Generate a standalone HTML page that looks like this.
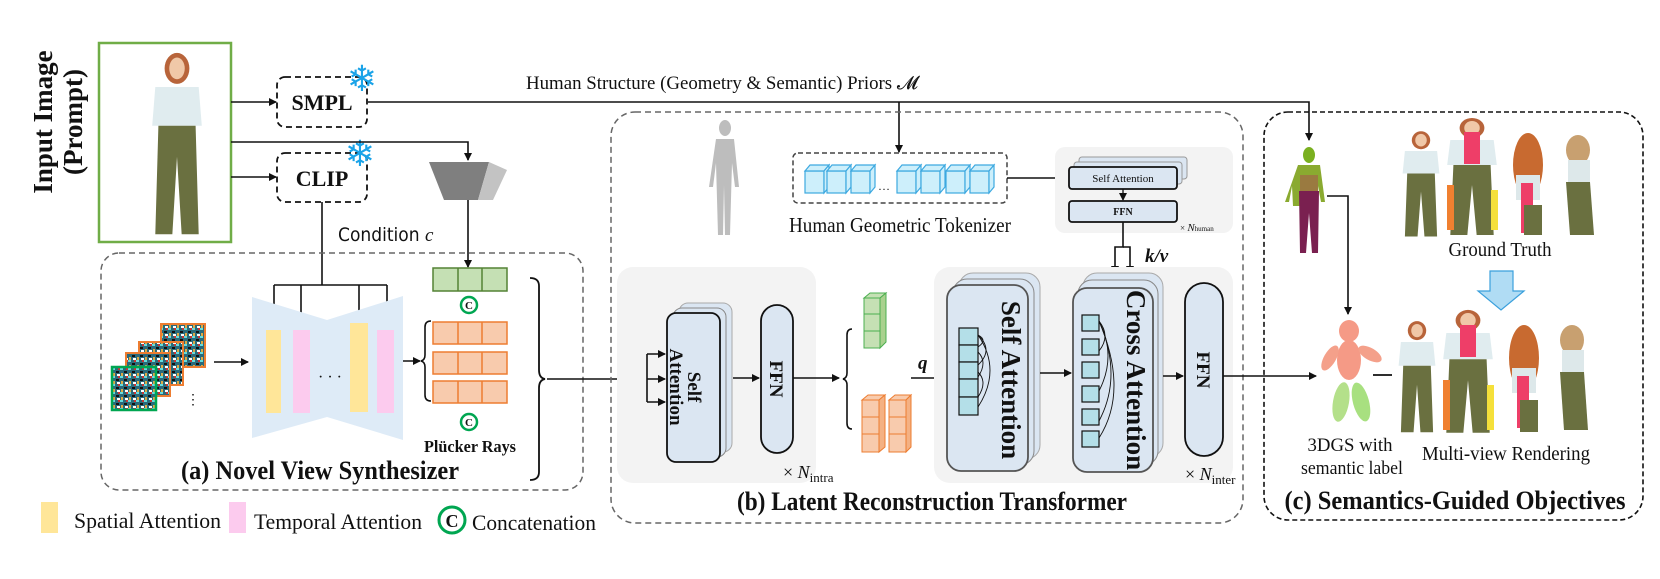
<!DOCTYPE html>
<html><head><meta charset="utf-8"><style>
html,body{margin:0;padding:0;background:#fff}
svg{display:block}
text{font-family:"Liberation Serif",serif;fill:#111}
.b{font-weight:bold}
</style></head><body>
<svg width="1660" height="579" viewBox="0 0 1660 579" xmlns="http://www.w3.org/2000/svg">
<defs>
<marker id="ar" markerWidth="8" markerHeight="8" refX="7" refY="4" orient="auto" markerUnits="userSpaceOnUse"><path d="M0,0 L8,4 L0,8 z" fill="#111"/></marker>
<pattern id="noise" width="8" height="8" patternUnits="userSpaceOnUse">
<rect width="8" height="8" fill="#2a6a7a"/><rect x="0" y="0" width="3" height="2" fill="#6dd"/><rect x="4" y="3" width="3" height="2" fill="#111"/><rect x="1" y="5" width="2" height="3" fill="#da4"/><rect x="5" y="6" width="3" height="2" fill="#fff"/><rect x="6" y="0" width="2" height="2" fill="#c33"/>
</pattern>
<g id="girl">
<ellipse cx="0" cy="-52" rx="8" ry="10" fill="#b8643a"/>
<ellipse cx="0" cy="-52" rx="5" ry="7" fill="#f0c8a8"/>
<path d="M-14,-40 L14,-40 L16,-15 L-16,-15 z" fill="#e0ecef"/>
<path d="M-12,-15 L12,-15 L14,55 L3,55 L0,5 L-3,55 L-14,55 z" fill="#6a7040"/>
</g>
<g id="cube"><rect x="0" y="8" width="19" height="22"/><polygon points="0,8 5,2 24,2 19,8"/><polygon points="19,8 24,2 24,24 19,30"/></g>
</defs>

<text class="b" font-size="27" transform="translate(52,122) rotate(-90)" text-anchor="middle">Input Image</text>
<text class="b" font-size="27" transform="translate(82,122) rotate(-90)" text-anchor="middle">(Prompt)</text>
<rect x="99" y="43" width="132" height="199" fill="#fff" stroke="#70ad47" stroke-width="2.5"/>
<g transform="translate(177,149) scale(1.55)"><use href="#girl"/></g>

<rect x="277" y="77" width="90" height="50" rx="8" fill="none" stroke="#111" stroke-width="1.8" stroke-dasharray="6,4"/>
<text class="b" x="322" y="110" font-size="22" text-anchor="middle">SMPL</text>
<rect x="277" y="153" width="90" height="49" rx="8" fill="none" stroke="#111" stroke-width="1.8" stroke-dasharray="6,4"/>
<text class="b" x="322" y="186" font-size="22" text-anchor="middle">CLIP</text>
<text x="362" y="91" font-size="36" style="fill:#1aa3e8" text-anchor="middle">❄</text>
<text x="360" y="166" font-size="36" style="fill:#1aa3e8" text-anchor="middle">❄</text>

<g stroke="#111" stroke-width="1.6" fill="none">
<line x1="231" y1="102" x2="276" y2="102" marker-end="url(#ar)"/>
<line x1="231" y1="177" x2="276" y2="177" marker-end="url(#ar)"/>
<polyline points="231,142 468,142 468,160" marker-end="url(#ar)"/>
<polyline points="368,102 1309,102 1309,140" marker-end="url(#ar)"/>
<line x1="899" y1="102" x2="899" y2="152" marker-end="url(#ar)"/>
<polyline points="322,202 322,285"/>
<line x1="274" y1="285" x2="387" y2="285"/>
<line x1="274" y1="285" x2="274" y2="328" marker-end="url(#ar)"/>
<line x1="301" y1="285" x2="301" y2="328" marker-end="url(#ar)"/>
<line x1="359" y1="285" x2="359" y2="322" marker-end="url(#ar)"/>
<line x1="387" y1="285" x2="387" y2="328" marker-end="url(#ar)"/>
<line x1="468" y1="200" x2="468" y2="267" marker-end="url(#ar)"/>
</g>
<text x="526" y="89" font-size="19" textLength="392" lengthAdjust="spacingAndGlyphs">Human Structure (Geometry &amp; Semantic) Priors 𝓜</text>
<text x="338" y="241" font-size="19" style="font-family:'DejaVu Sans Condensed','DejaVu Sans',sans-serif">Condition <tspan font-style="italic" style="font-family:'Liberation Serif',serif">c</tspan></text>

<polygon points="429,162 489,162 478,200 444,200" fill="#7f7f7f"/>
<polygon points="489,162 507,170 493,200 478,200" fill="#c3c3c3"/>

<rect x="101" y="253" width="482" height="237" rx="18" fill="none" stroke="#666" stroke-width="1.5" stroke-dasharray="6,4"/>
<rect x="161" y="324" width="44" height="43" fill="url(#noise)" stroke="#ed7d31" stroke-width="2"/>
<rect x="139" y="342" width="44" height="43" fill="url(#noise)" stroke="#ed7d31" stroke-width="2"/>
<rect x="126" y="353" width="44" height="43" fill="url(#noise)" stroke="#ed7d31" stroke-width="2"/>
<rect x="112" y="367" width="44" height="43" fill="url(#noise)" stroke="#00a651" stroke-width="2.5"/>
<text x="186" y="404" font-size="14">⋮</text>
<line x1="214" y1="362" x2="248" y2="362" stroke="#111" stroke-width="1.6" marker-end="url(#ar)"/>
<polygon points="252,297 327,320 403,296 403,440 327,417 252,438" fill="#deebf7"/>
<rect x="266" y="330" width="15" height="83" fill="#ffe699"/>
<rect x="293" y="330" width="17" height="83" fill="#fccbee"/>
<rect x="350" y="323" width="18" height="89" fill="#ffe699"/>
<rect x="377" y="330" width="17" height="83" fill="#fccbee"/>
<text x="330" y="382" font-size="16" text-anchor="middle">· · ·</text>
<line x1="403" y1="361" x2="420" y2="361" stroke="#111" stroke-width="1.6" marker-end="url(#ar)"/>
<path d="M431,321 q-6,0 -6,6 v28 q0,5 -4,6 q4,1 4,6 v28 q0,6 6,6" fill="none" stroke="#111" stroke-width="1.6"/>
<g stroke="#548235" stroke-width="1.5" fill="#c5e0b4">
<rect x="433" y="268" width="74" height="23"/><line x1="458" y1="268" x2="458" y2="291"/><line x1="482" y1="268" x2="482" y2="291"/></g>
<g stroke="#ed7d31" stroke-width="1.5" fill="#f8cbad">
<rect x="433" y="322" width="74" height="22"/><line x1="458" y1="322" x2="458" y2="344"/><line x1="482" y1="322" x2="482" y2="344"/>
<rect x="433" y="352" width="74" height="22"/><line x1="458" y1="352" x2="458" y2="374"/><line x1="482" y1="352" x2="482" y2="374"/>
<rect x="433" y="381" width="74" height="22"/><line x1="458" y1="381" x2="458" y2="403"/><line x1="482" y1="381" x2="482" y2="403"/></g>
<circle cx="469" cy="305" r="8" fill="#fff" stroke="#00a651" stroke-width="2.5"/><text x="469" y="309" font-size="11" class="b" text-anchor="middle">C</text>
<circle cx="469" cy="422" r="8" fill="#fff" stroke="#00a651" stroke-width="2.5"/><text x="469" y="426" font-size="11" class="b" text-anchor="middle">C</text>
<text class="b" x="470" y="452" font-size="17" text-anchor="middle" textLength="92" lengthAdjust="spacingAndGlyphs">Plücker Rays</text>
<text class="b" x="320" y="479" font-size="26" text-anchor="middle" textLength="278" lengthAdjust="spacingAndGlyphs">(a) Novel View Synthesizer</text>
<path d="M530,278 q9,0 9,8 v84 q0,8 6,9 q-6,1 -6,9 v84 q0,8 -9,8" fill="none" stroke="#111" stroke-width="1.8"/>
<line x1="547" y1="379" x2="648" y2="379" stroke="#111" stroke-width="1.6"/>

<rect x="41" y="502" width="17" height="31" fill="#ffe699"/>
<text x="74" y="528" font-size="22" textLength="147" lengthAdjust="spacingAndGlyphs">Spatial Attention</text>
<rect x="229" y="502" width="17" height="31" fill="#fccbee"/>
<text x="254" y="529" font-size="22" textLength="168" lengthAdjust="spacingAndGlyphs">Temporal Attention</text>
<circle cx="452" cy="520" r="13" fill="#fff" stroke="#00a651" stroke-width="3"/><text x="452" y="527" font-size="18" class="b" text-anchor="middle">C</text>
<text x="472" y="530" font-size="22" textLength="124" lengthAdjust="spacingAndGlyphs">Concatenation</text>

<rect x="611" y="112" width="632" height="411" rx="24" fill="none" stroke="#666" stroke-width="1.5" stroke-dasharray="6,4"/>
<g fill="#bdbdbd">
<ellipse cx="725" cy="128" rx="6" ry="8"/>
<path d="M716,139 h18 l5,48 l-4,0 l-3,-24 l-2,72 h-5 l-1,-50 l-1,50 h-5 l-2,-72 l-3,24 h-4 z"/>
</g>
<rect x="793" y="153" width="214" height="50" rx="5" fill="none" stroke="#444" stroke-width="1.5" stroke-dasharray="5,3"/>
<g fill="#cdeffb" stroke="#3da9e0" stroke-width="1.2">
<use href="#cube" transform="translate(805,163)"/><use href="#cube" transform="translate(827,163)"/><use href="#cube" transform="translate(851,163)"/>
<use href="#cube" transform="translate(897,163)"/><use href="#cube" transform="translate(921,163)"/><use href="#cube" transform="translate(946,163)"/><use href="#cube" transform="translate(970,163)"/>
</g>
<text x="878" y="190" font-size="12">…</text>
<text x="900" y="232" font-size="21" text-anchor="middle" textLength="222" lengthAdjust="spacingAndGlyphs">Human Geometric Tokenizer</text>
<line x1="1007" y1="178" x2="1067" y2="178" stroke="#111" stroke-width="1.6" marker-end="url(#ar)"/>
<rect x="1055" y="147" width="178" height="86" rx="10" fill="#f3f3f3"/>
<rect x="1079" y="157" width="108" height="22" rx="3" fill="#dbe6f2" stroke="#999"/>
<rect x="1074" y="162" width="108" height="22" rx="3" fill="#dbe6f2" stroke="#999"/>
<rect x="1069" y="167" width="108" height="22" rx="3" fill="#dbe6f2" stroke="#111" stroke-width="1.8"/>
<text x="1123" y="182" font-size="11" text-anchor="middle">Self Attention</text>
<rect x="1069" y="201" width="108" height="21" rx="3" fill="#dbe6f2" stroke="#111" stroke-width="1.8"/>
<text x="1123" y="215" font-size="10" class="b" text-anchor="middle">FFN</text>
<line x1="1123" y1="189" x2="1123" y2="200" stroke="#111" stroke-width="1.3" marker-end="url(#ar)"/>
<text x="1180" y="231" font-size="9">× <tspan font-style="italic" font-size="11">N</tspan><tspan font-size="7">human</tspan></text>
<g stroke="#111" stroke-width="1.6" fill="none">
<polyline points="1123,222 1123,247 1115,247 1115,273" marker-end="url(#ar)"/>
<polyline points="1123,247 1130,247 1130,273" marker-end="url(#ar)"/>
</g>
<text x="1145" y="262" font-size="19" class="b" font-style="italic">k/v</text>

<rect x="617" y="267" width="199" height="216" rx="16" fill="#f3f3f3"/>
<rect x="679" y="303" width="53" height="149" rx="9" fill="#dbe6f2" stroke="#aaa"/>
<rect x="673" y="308" width="53" height="149" rx="9" fill="#dbe6f2" stroke="#888"/>
<rect x="667" y="313" width="53" height="149" rx="9" fill="#dbe6f2" stroke="#111" stroke-width="1.8"/>
<text class="b" font-size="19" transform="translate(688,387) rotate(90)" text-anchor="middle">Self</text>
<text class="b" font-size="19" transform="translate(670,387) rotate(90)" text-anchor="middle">Attention</text>
<rect x="761" y="305" width="32" height="148" rx="16" fill="#dbe6f2" stroke="#111" stroke-width="1.8"/>
<text class="b" font-size="19" transform="translate(770,379) rotate(90)" text-anchor="middle">FFN</text>
<g stroke="#111" stroke-width="1.6" fill="none">
<polyline points="647,354 647,402"/>
<line x1="647" y1="354" x2="665" y2="354" marker-end="url(#ar)"/>
<line x1="647" y1="379" x2="665" y2="379" marker-end="url(#ar)"/>
<line x1="647" y1="402" x2="665" y2="402" marker-end="url(#ar)"/>
<line x1="733" y1="378" x2="759" y2="378" marker-end="url(#ar)"/>
<line x1="793" y1="378" x2="839" y2="378" marker-end="url(#ar)"/>
<path d="M852,329 q-5,0 -5,6 v38 q0,5 -4,6 q4,1 4,6 v38 q0,6 5,6"/>
<line x1="911" y1="378" x2="945" y2="378" marker-end="url(#ar)"/>
</g>
<text x="783" y="478" font-size="18">× <tspan font-style="italic">N</tspan><tspan font-size="13" dy="4">intra</tspan></text>
<g fill="#c5e0b4" stroke="#4caf50" stroke-width="1">
<rect x="864" y="298" width="16" height="16"/><rect x="864" y="314" width="16" height="17"/><rect x="864" y="331" width="16" height="17"/>
<polygon points="864,298 870,293 886,293 880,298"/><polygon points="880,298 886,293 886,342 880,348" fill="#a9d18e"/>
</g>
<g fill="#f8cbad" stroke="#ed7d31" stroke-width="1">
<rect x="862" y="400" width="17" height="17"/><rect x="862" y="417" width="17" height="17"/><rect x="862" y="434" width="17" height="18"/>
<polygon points="862,400 868,395 885,395 879,400"/><polygon points="879,400 885,395 885,447 879,452" fill="#f4b183"/>
<rect x="889" y="400" width="17" height="17"/><rect x="889" y="417" width="17" height="17"/><rect x="889" y="434" width="17" height="18"/>
<polygon points="889,400 895,395 911,395 906,400"/><polygon points="906,400 911,395 911,447 906,452" fill="#f4b183"/>
</g>
<text x="918" y="369" font-size="19" class="b" font-style="italic">q</text>

<rect x="934" y="267" width="299" height="216" rx="16" fill="#f3f3f3"/>
<rect x="959" y="273" width="81" height="186" rx="14" fill="#dbe6f2" stroke="#aaa"/>
<rect x="953" y="279" width="81" height="186" rx="14" fill="#dbe6f2" stroke="#888"/>
<rect x="947" y="285" width="81" height="186" rx="14" fill="#dbe6f2" stroke="#555" stroke-width="1.8"/>
<g fill="#b4dfe8" stroke="#111" stroke-width="1.2">
<rect x="959" y="328" width="19" height="17"/><rect x="959" y="345" width="19" height="17"/><rect x="959" y="362" width="19" height="17"/><rect x="959" y="379" width="19" height="18"/><rect x="959" y="397" width="19" height="18"/>
</g>
<g stroke="#111" stroke-width="0.9" fill="none">
<path d="M978,335 q10,5 0,12"/><path d="M978,335 q16,15 0,30"/><path d="M978,335 q24,35 0,72"/><path d="M978,352 q10,10 0,25"/><path d="M978,372 q10,10 0,25"/>
</g>
<text class="b" font-size="27" transform="translate(1002,380) rotate(90)" text-anchor="middle">Self Attention</text>
<rect x="1083" y="273" width="80" height="184" rx="14" fill="#dbe6f2" stroke="#aaa"/>
<rect x="1078" y="280" width="80" height="185" rx="14" fill="#dbe6f2" stroke="#888"/>
<rect x="1073" y="288" width="80" height="184" rx="14" fill="#dbe6f2" stroke="#555" stroke-width="1.8"/>
<g fill="#b4dfe8" stroke="#111" stroke-width="1.2">
<rect x="1082" y="315" width="17" height="16"/><rect x="1082" y="339" width="17" height="16"/><rect x="1082" y="362" width="17" height="16"/><rect x="1082" y="386" width="17" height="16"/><rect x="1082" y="409" width="17" height="16"/><rect x="1082" y="431" width="17" height="16"/>
</g>
<g stroke="#111" stroke-width="0.9" fill="none">
<path d="M1099,321 q12,15 0,30"/><path d="M1099,321 q18,35 0,70"/><path d="M1099,321 q24,55 0,100"/><path d="M1099,321 q30,70 0,117"/>
</g>
<text class="b" font-size="27" transform="translate(1127,380) rotate(90)" text-anchor="middle">Cross Attention</text>
<rect x="1185" y="283" width="38" height="173" rx="19" fill="#dbe6f2" stroke="#111" stroke-width="1.8"/>
<text class="b" font-size="19" transform="translate(1197,370) rotate(90)" text-anchor="middle">FFN</text>
<g stroke="#111" stroke-width="1.6" fill="none">
<line x1="1040" y1="373" x2="1071" y2="373" marker-end="url(#ar)"/>
<line x1="1163" y1="376" x2="1183" y2="376" marker-end="url(#ar)"/>
<line x1="1223" y1="376" x2="1316" y2="376" marker-end="url(#ar)"/>
</g>
<text x="1185" y="480" font-size="18">× <tspan font-style="italic">N</tspan><tspan font-size="13" dy="4">inter</tspan></text>
<text class="b" x="932" y="510" font-size="26" text-anchor="middle" textLength="390" lengthAdjust="spacingAndGlyphs">(b) Latent Reconstruction Transformer</text>

<rect x="1264" y="112" width="379" height="408" rx="24" fill="none" stroke="#111" stroke-width="1.6" stroke-dasharray="5,3"/>
<ellipse cx="1309" cy="155" rx="6" ry="8" fill="#7ab020"/>
<path d="M1298,165 h22 l5,37 h-4 l-3,-16 l-1,20 h-24 l-1,-20 l-3,16 h-4 z" fill="#8aaa30"/>
<rect x="1300" y="175" width="18" height="18" fill="#9a7a40"/>
<path d="M1299,191 h20 l-1,62 h-6 l-3,-40 l-3,40 h-6 z" fill="#7a2050"/>
<polyline points="1327,196 1348,196 1348,314" fill="none" stroke="#111" stroke-width="1.6" marker-end="url(#ar)"/>
<ellipse cx="1349" cy="331" rx="10" ry="11" fill="#f59a86"/>
<ellipse cx="1349" cy="360" rx="12" ry="20" fill="#f59a86"/>
<ellipse cx="1330" cy="358" rx="6" ry="14" fill="#f4a08a" transform="rotate(30 1330 358)"/>
<ellipse cx="1370" cy="354" rx="6" ry="13" fill="#f4a08a" transform="rotate(-60 1370 354)"/>
<ellipse cx="1341" cy="402" rx="8" ry="20" fill="#b4e08a" transform="rotate(10 1341 402)"/>
<ellipse cx="1361" cy="402" rx="8" ry="20" fill="#a8e080" transform="rotate(-15 1361 402)"/>
<line x1="1373" y1="375" x2="1392" y2="375" stroke="#111" stroke-width="1.8"/>
<text x="1350" y="451" font-size="19" text-anchor="middle" textLength="85" lengthAdjust="spacingAndGlyphs">3DGS with</text>
<text x="1352" y="474" font-size="19" text-anchor="middle" textLength="102" lengthAdjust="spacingAndGlyphs">semantic label</text>
<g transform="translate(1421,187) scale(1.15,0.9)"><use href="#girl"/></g>
<g transform="translate(1472,180) scale(1.55,1.0)"><use href="#girl"/></g>
<rect x="1464" y="132" width="16" height="32" fill="#ee3e68"/>
<rect x="1447" y="185" width="7" height="45" fill="#f08030"/><rect x="1491" y="190" width="7" height="40" fill="#f5e03a"/>
<ellipse cx="1528" cy="165" rx="15" ry="32" fill="#c86a30"/>
<rect x="1516" y="175" width="24" height="25" fill="#dde8ea"/>
<rect x="1521" y="183" width="12" height="50" fill="#ee3e68"/>
<rect x="1524" y="205" width="18" height="30" fill="#6a7040"/>
<ellipse cx="1578" cy="150" rx="12" ry="15" fill="#c8a070"/>
<rect x="1568" y="160" width="22" height="22" fill="#dde8ea"/>
<path d="M1566,182 h24 l4,53 h-24 z" fill="#6a7040"/>
<text x="1500" y="256" font-size="20" text-anchor="middle" textLength="103" lengthAdjust="spacingAndGlyphs">Ground Truth</text>
<polygon points="1490,271 1513,271 1513,291 1524,291 1501,310 1478,291 1490,291" fill="#b0dcf4" stroke="#3ba0dc" stroke-width="1.2"/>
<g transform="translate(1417,380) scale(1.15,0.95)"><use href="#girl"/></g>
<g transform="translate(1468,375) scale(1.55,1.05)"><use href="#girl"/></g>
<rect x="1460" y="325" width="16" height="32" fill="#ee3e68"/>
<rect x="1443" y="380" width="7" height="50" fill="#f08030"/><rect x="1487" y="385" width="7" height="45" fill="#f5e03a"/>
<ellipse cx="1524" cy="358" rx="15" ry="33" fill="#c86a30"/>
<rect x="1512" y="368" width="24" height="25" fill="#dde8ea"/>
<rect x="1517" y="376" width="12" height="52" fill="#ee3e68"/>
<rect x="1520" y="400" width="18" height="32" fill="#6a7040"/>
<ellipse cx="1572" cy="340" rx="12" ry="15" fill="#c8a070"/>
<rect x="1562" y="350" width="22" height="22" fill="#dde8ea"/>
<path d="M1560,372 h24 l4,58 h-24 z" fill="#6a7040"/>
<text x="1506" y="460" font-size="20" text-anchor="middle" textLength="168" lengthAdjust="spacingAndGlyphs">Multi-view Rendering</text>
<text class="b" x="1455" y="509" font-size="26" text-anchor="middle" textLength="341" lengthAdjust="spacingAndGlyphs">(c) Semantics-Guided Objectives</text>
</svg>
</body></html>
